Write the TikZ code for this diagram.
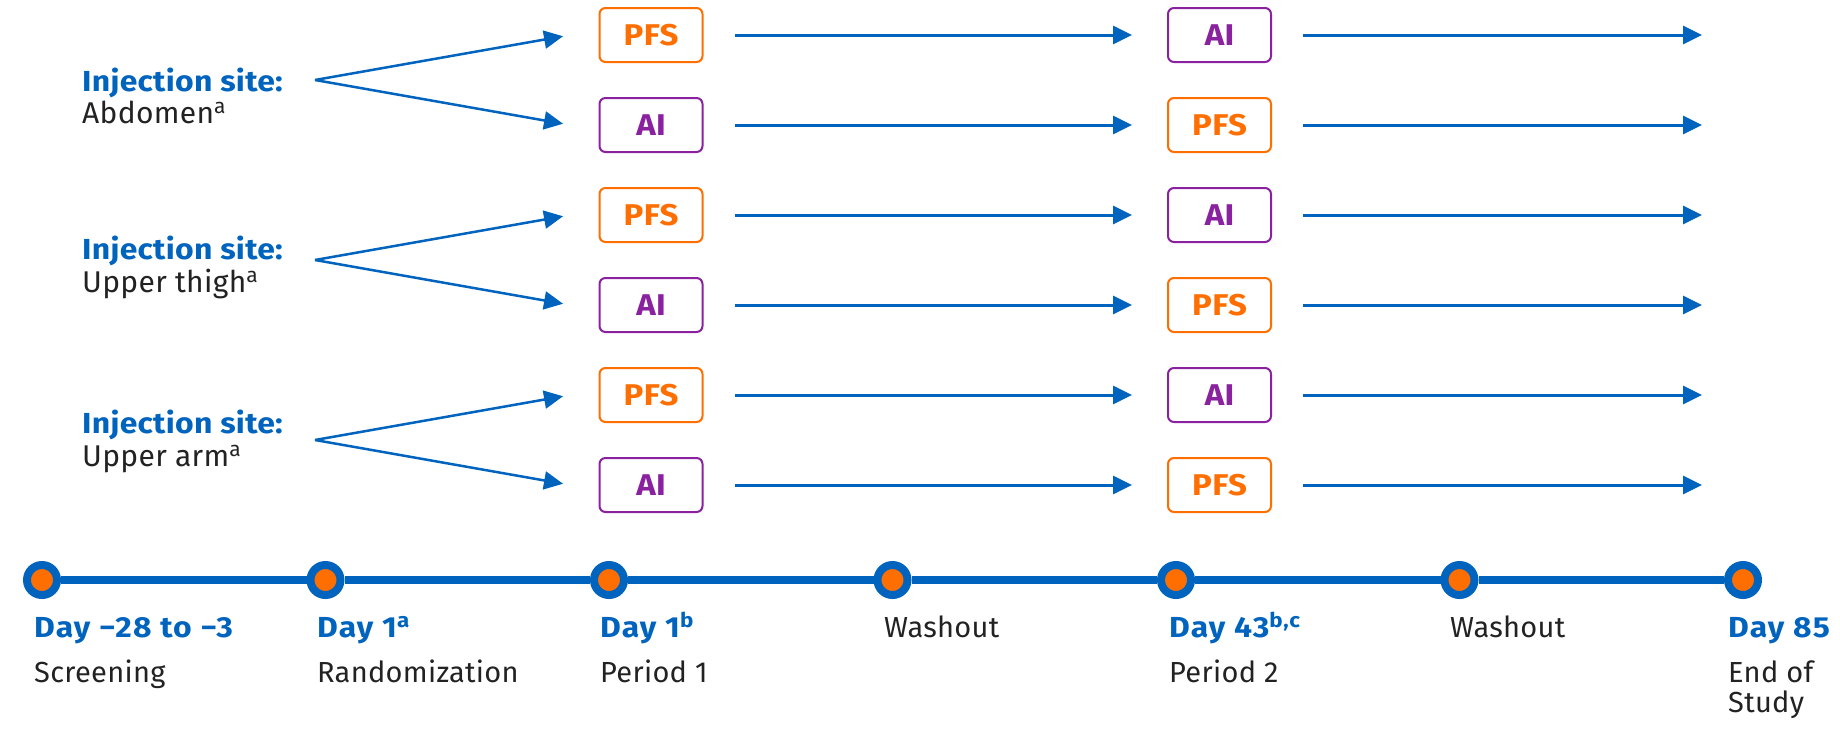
\documentclass[tikz,border=0pt]{standalone}
\usepackage{fontspec}
\setmainfont{Fira Sans}[LetterSpace=1, BoldFeatures={FakeStretch=1.1}]
\usetikzlibrary{arrows.meta}
\definecolor{cblue}{HTML}{0064BE}
\definecolor{corange}{HTML}{FF6E00}
\definecolor{cpurple}{HTML}{8A22A0}
\definecolor{ctext}{HTML}{222222}
\begin{document}
\begin{tikzpicture}[x=1pt,y=-1pt,
  boxbase/.style={rounded corners=6pt, line width=2pt, minimum width=103pt, minimum height=54pt, inner sep=0pt, font=\fontsize{30}{30}\selectfont\bfseries, fill=white},
  pfsbox/.style={boxbase, draw=corange, text=corange},
  aibox/.style={boxbase, draw=cpurple, text=cpurple},
  arr/.style={cblue, line width=3pt, -{Triangle[length=19pt,width=18pt]}},
  fanarr/.style={cblue, line width=2.5pt, -{Triangle[length=19pt,width=18pt]}, shorten >=36pt},
  sitehead/.style={anchor=base west, inner sep=0pt, text=cblue, font=\fontsize{29}{29}\selectfont\bfseries},
  sitename/.style={anchor=base west, inner sep=0pt, text=ctext, font=\fontsize{30}{30}\selectfont},
  daylab/.style={anchor=base west, inner sep=0pt, text=cblue, font=\fontsize{29}{29}\selectfont\bfseries\addfontfeature{LetterSpace=4}},
  sublab/.style={anchor=base west, inner sep=0pt, text=ctext, font=\fontsize{29}{30}\selectfont},
  dot/.style={circle, draw=cblue, line width=8pt, fill=corange, minimum size=30pt, inner sep=0pt},
  tline/.style={cblue, line width=8pt}
]
\path[use as bounding box] (0,0) rectangle (1840,740);

% boxes column 1
\node[pfsbox] (a1) at (651,35) {PFS};
\node[aibox]  (a2) at (651,125) {AI};
\node[pfsbox] (a3) at (651,215) {PFS};
\node[aibox]  (a4) at (651,305) {AI};
\node[pfsbox] (a5) at (651,395) {PFS};
\node[aibox]  (a6) at (651,485) {AI};
% boxes column 2
\node[aibox]  (c1) at (1219.5,35) {AI};
\node[pfsbox] (c2) at (1219.5,125) {PFS};
\node[aibox]  (c3) at (1219.5,215) {AI};
\node[pfsbox] (c4) at (1219.5,305) {PFS};
\node[aibox]  (c5) at (1219.5,395) {AI};
\node[pfsbox] (c6) at (1219.5,485) {PFS};
% arrow ends
\foreach \i/\y in {1/35,2/125,3/215,4/305,5/395,6/485}{
  \coordinate (e\i) at (1702,\y);
  \draw[arr, shorten <=31pt, shorten >=35pt] (a\i) -- (c\i);
  \draw[arr, shorten <=31pt] (c\i) -- (e\i);
}

% fans
\coordinate (f1) at (315,80);
\coordinate (f2) at (315,260);
\coordinate (f3) at (315,440);
\draw[fanarr] (f1) -- ([yshift=5pt]a1.west);
\draw[fanarr] (f1) -- ([yshift=-5pt]a2.west);
\draw[fanarr] (f2) -- ([yshift=5pt]a3.west);
\draw[fanarr] (f2) -- ([yshift=-5pt]a4.west);
\draw[fanarr] (f3) -- ([yshift=5pt]a5.west);
\draw[fanarr] (f3) -- ([yshift=-5pt]a6.west);

% site labels
\node[sitehead] (s1h) at (82,91) {Injection site:};
\node[sitename] (s1n) at (82,123) {Abdomen\textsuperscript{a}};
\node[sitehead] (s2h) at (82,259) {Injection site:};
\node[sitename] (s2n) at (82,292) {Upper thigh\textsuperscript{a}};
\node[sitehead] (s3h) at (82,433) {Injection site:};
\node[sitename] (s3n) at (82,466) {Upper arm\textsuperscript{a}};

% timeline
\foreach \i/\x in {1/42,2/325.5,3/609,4/892.5,5/1176,6/1459.5,7/1743}{
  \node[dot] (d\i) at (\x,580) {};
}
\foreach \i/\j in {1/2,2/3,3/4,4/5,5/6,6/7}{
  \draw[tline] (d\i) -- (d\j);
}

% timeline labels
\node[daylab] (l1) at (34,637) {Day −28 to −3};
\node[sublab] (m1) at (34,682) {Screening};
\node[daylab] (l2) at (317,637) {Day 1\textsuperscript{a}};
\node[sublab] (m2) at (317,682) {Randomization};
\node[daylab] (l3) at (600,637) {Day 1\textsuperscript{b}};
\node[sublab] (m3) at (600,682) {Period 1};
\node[sublab] (l4) at (884,637) {Washout};
\node[daylab] (l5) at (1169,637) {Day 43\textsuperscript{b,c}};
\node[sublab] (m5) at (1169,682) {Period 2};
\node[sublab] (l6) at (1450,637) {Washout};
\node[daylab] (l7) at (1728,637) {Day 85};
\node[sublab] (m7) at (1728,682) {End of};
\node[sublab] (n7) at (1728,712) {Study};
\end{tikzpicture}
\end{document}
